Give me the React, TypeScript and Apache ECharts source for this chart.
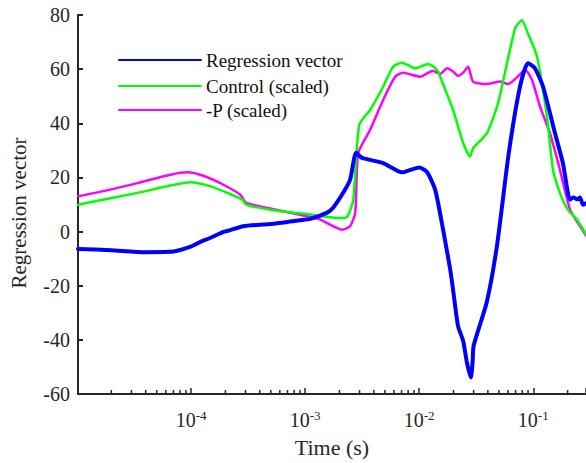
import React, { useEffect, useRef } from "react";
import * as echarts from "echarts";

const FONT = "Liberation Serif";
const AX = "#262626";

const X_MIN = 1.02e-5;
const X_MAX = 0.29;
const Y_MIN = -60;
const Y_MAX = 80;
const Y_STEP = 20;

const seriesNames = ["Regression vector", "Control (scaled)", "-P (scaled)"];
const seriesColors = ["#0000ff", "#00ff00", "#ff00ff"];
const seriesWidths = [4, 2.5, 2.5];

const regressionT = [1.02e-5, 2e-5, 4e-5, 7e-5, 9.9e-5, 1.2e-4, 1.5e-4, 1.92e-4, 2.1e-4, 2.87e-4, 4.94e-4, 9.05e-4, 1.11e-3, 1.56e-3, 1.76e-3, 2.16e-3, 2.48e-3, 2.8e-3, 3.16e-3, 4.83e-3, 7.08e-3, 1.0e-2, 1.17e-2, 1.38e-2, 1.62e-2, 1.87e-2, 1.98e-2, 2.19e-2, 2.43e-2, 2.62e-2, 2.84e-2, 2.94e-2, 3.0e-2, 3.9e-2, 4.8e-2, 6.1e-2, 7.64e-2, 8.99e-2, 0.1035, 0.1217, 0.155, 0.182, 0.21, 0.225, 0.245, 0.257, 0.273, 0.29];
const regressionV = [-6.4, -6.9, -7.6, -7.4, -5.6, -3.9, -2.2, -0.1, 0.3, 2.0, 2.8, 4.2, 4.7, 7.0, 8.8, 14.4, 19.2, 29.1, 27.2, 25.3, 21.9, 23.7, 22.0, 15.5, 0.7, -14.0, -21.4, -34.9, -40.4, -48.4, -53.9, -48, -42.2, -26.3, -5.4, 29, 53.4, 62.2, 60.3, 53.6, 36.4, 25.3, 11.8, 12.6, 11.9, 12.6, 9.9, 10.5];

const controlT = [1.02e-5, 3.39e-5, 6.59e-5, 9.86e-5, 1.48e-4, 2.08e-4, 2.81e-4, 3.05e-4, 4.94e-4, 1.11e-3, 2.03e-3, 2.35e-3, 2.64e-3, 2.98e-3, 3.72e-3, 4.83e-3, 5.9e-3, 7.08e-3, 9.2e-3, 1.2e-2, 1.44e-2, 1.55e-2, 1.98e-2, 2.43e-2, 2.79e-2, 2.97e-2, 3.93e-2, 4.91e-2, 6.92e-2, 7.96e-2, 8.99e-2, 0.108, 0.1318, 0.149, 0.1714, 0.201, 0.242, 0.29];
const controlV = [9.9, 14.3, 17.0, 18.2, 16.7, 14.3, 11.8, 9.9, 8.1, 6.3, 5.0, 5.6, 11.8, 39.4, 45.0, 53.5, 60.9, 62.4, 60.3, 61.9, 59.7, 56.5, 45, 32.7, 27.7, 30.8, 36.4, 47.4, 75.0, 78.1, 73.2, 64.6, 42.5, 22.8, 14.3, 8.1, 4.4, -1.0];

const pressureT = [1.02e-5, 1.96e-5, 3.39e-5, 6.59e-5, 9.3e-5, 1.28e-4, 1.92e-4, 2.7e-4, 3.05e-4, 4.94e-4, 1.11e-3, 1.36e-3, 2.11e-3, 2.48e-3, 2.75e-3, 2.92e-3, 3.72e-3, 4.83e-3, 6.15e-3, 7.22e-3, 1.02e-2, 1.32e-2, 1.52e-2, 1.76e-2, 1.98e-2, 2.19e-2, 2.43e-2, 2.68e-2, 2.97e-2, 3.93e-2, 5.11e-2, 6.0e-2, 8.13e-2, 8.63e-2, 9.75e-2, 0.1146, 0.14, 0.1714, 0.21, 0.257, 0.29];
const pressureV = [13.0, 15.5, 17.9, 21.0, 21.9, 20.6, 17.3, 13.6, 10.6, 8.5, 5.4, 4.4, 0.7, 2.0, 7.0, 29.0, 37.6, 48.6, 57.2, 58.7, 57.2, 59.4, 58.2, 60.3, 59.1, 57.5, 58.7, 60.9, 55.4, 54.5, 55.4, 54.5, 59.1, 59.4, 56.0, 46.2, 36.4, 22.8, 8.1, 2.0, -1.5];

const legendRowCenters = [60, 86, 110];

const decadeExponents = [-5, -4, -3, -2, -1];
const minorMultipliers = [2, 3, 4, 5, 6, 7, 8, 9];

function zip(t: number[], v: number[]) {
  return t.map((x, i) => [x, v[i]]);
}

export default function App() {
  const ref = useRef<HTMLDivElement>(null);
  useEffect(() => {
    if (!ref.current) return;
    const chart = echarts.init(ref.current, null, { renderer: "svg" });
    const minorTicks: number[][] = [];
    decadeExponents.forEach((n) =>
      minorMultipliers.forEach((k) => {
        const v = k * Math.pow(10, n);
        if (v > X_MIN && v < X_MAX) minorTicks.push([v, Y_MIN]);
      })
    );
    const datasets = [zip(regressionT, regressionV), zip(controlT, controlV), zip(pressureT, pressureV)];
    const option: any = {
      animation: false,
      textStyle: { fontFamily: FONT },
      grid: { left: 78, right: 0, top: 15, bottom: 69, containLabel: false, outerBoundsMode: "none" },
      legend: seriesNames.map((name, i) => ({
        data: [name],
        orient: "vertical",
        left: 118,
        top: legendRowCenters[i] - 10,
        padding: 0,
        itemWidth: 82,
        itemHeight: 20,
        itemGap: 0,
        itemStyle: { opacity: 0 },
        textStyle: { fontFamily: FONT, fontSize: 19, lineHeight: 20, color: "#111" },
        selectedMode: false,
      })),
      xAxis: {
        type: "log",
        logBase: 10,
        min: X_MIN,
        max: X_MAX,
        name: "Time (s)",
        nameLocation: "middle",
        nameGap: 42,
        nameTextStyle: { fontFamily: FONT, fontSize: 22, color: AX },
        axisLine: { show: true, onZero: false, lineStyle: { color: AX, width: 2 } },
        axisTick: { show: true, inside: true, length: 6, lineStyle: { color: AX, width: 1.5 } },
        splitLine: { show: false },
        axisLabel: {
          margin: 15,
          color: AX,
          formatter: (val: number) => {
            const n = Math.log10(val);
            if (Math.abs(n - Math.round(n)) > 1e-6) return "";
            return "{b|10}{s|" + Math.round(n) + "}";
          },
          rich: {
            b: { fontFamily: FONT, fontSize: 20, color: AX, lineHeight: 22 },
            s: { fontFamily: FONT, fontSize: 13, color: AX, verticalAlign: "top", lineHeight: 12 },
          },
        },
      },
      yAxis: {
        type: "value",
        min: Y_MIN,
        max: Y_MAX,
        interval: Y_STEP,
        axisLine: { show: true, onZero: false, lineStyle: { color: AX, width: 2 } },
        axisTick: { show: true, inside: true, length: 5, lineStyle: { color: AX, width: 2 } },
        splitLine: { show: false },
        axisLabel: { margin: 8, color: AX, fontFamily: FONT, fontSize: 20 },
      },
      graphic: [
        {
          type: "text",
          x: 19,
          y: 213,
          rotation: Math.PI / 2,
          style: {
            text: "Regression vector",
            fontFamily: FONT,
            fontSize: 21,
            fill: AX,
            align: "center",
            verticalAlign: "middle",
          },
        },
      ],
      series: [
        ...seriesNames.map((name, i) => ({
          name,
          type: "line",
          data: datasets[i],
          symbol: "none",
          showSymbol: false,
          smooth: 0.2,
          z: 10 - i,
          lineStyle: { color: seriesColors[i], width: seriesWidths[i], cap: "round", join: "round" },
          itemStyle: { color: seriesColors[i] },
        })),
        {
          type: "custom",
          silent: true,
          clip: false,
          z: 20,
          data: minorTicks,
          renderItem: (params: any, api: any) => {
            const p = api.coord([api.value(0), api.value(1)]);
            return {
              type: "line",
              shape: { x1: p[0], y1: p[1], x2: p[0], y2: p[1] - 4 },
              style: { stroke: AX, lineWidth: 1.5 },
            };
          },
        },
      ],
    };
    chart.setOption(option);
    return () => chart.dispose();
  }, []);
  return (
    <div
      ref={ref}
      style={{ position: "fixed", left: 0, top: 0, width: 586, height: 463, background: "#fff" }}
    />
  );
}
